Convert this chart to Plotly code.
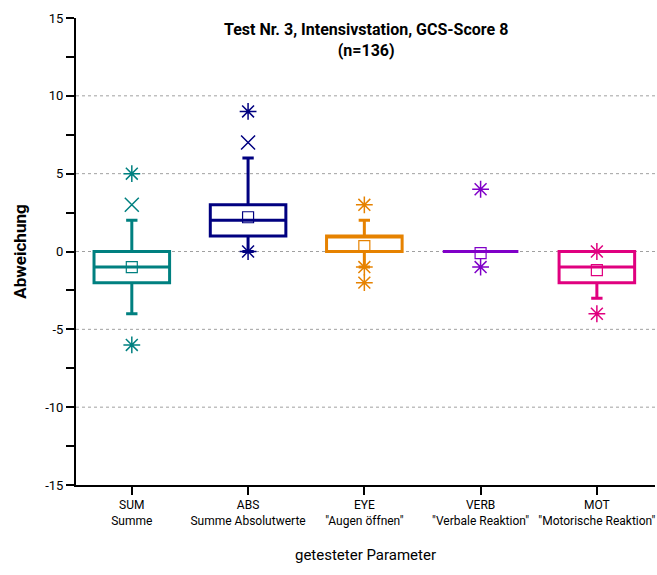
import plotly.graph_objects as go

categories = ["SUM", "ABS", "EYE", "VERB", "MOT"]
tick_labels = ["SUM<br>Summe", "ABS<br>Summe Absolutwerte", "EYE<br>\"Augen öffnen\"",
               "VERB<br>\"Verbale Reaktion\"", "MOT<br>\"Motorische Reaktion\""]
colors = ["#008080", "#000080", "#E68200", "#8000C8", "#E0007F"]

q1 = [-2, 1, 0, 0, -2]
median = [-1, 2, 1, 0, -1]
q3 = [0, 3, 1, 0, 0]
lower_whisker = [-4, 0, -1, 0, -3]
upper_whisker = [2, 6, 2, 0, 0]
means = [-1.0, 2.2, 0.35, -0.1, -1.2]

# outliers: (category index, value, symbol)
outlier_cat = [0, 0, 0, 1, 1, 1, 2, 2, 2, 3, 3, 4, 4]
outlier_val = [5, 3, -6, 9, 7, 0, 3, -1, -2, 4, -1, 0, -4]
outlier_sym = ["asterisk-open", "x-thin-open", "asterisk-open",
               "asterisk-open", "x-thin-open", "asterisk-open",
               "asterisk-open", "asterisk-open", "asterisk-open",
               "asterisk-open", "asterisk-open",
               "asterisk-open", "asterisk-open"]

grid_vals = [10, 5, 0, -5, -10]
y_ticks = [15, 10, 5, 0, -5, -10, -15]
y_tick_text = ["15", "10", "5", "0", "-5", "-10", "-15"]
y_minor = [12.5, 7.5, 2.5, -2.5, -7.5, -12.5]

FONT = "Roboto, Liberation Sans, Arial, sans-serif"

fig = go.Figure()

for i, c in enumerate(categories):
    fig.add_trace(go.Box(
        x=[i], q1=[q1[i]], median=[median[i]], q3=[q3[i]],
        lowerfence=[lower_whisker[i]], upperfence=[upper_whisker[i]],
        width=0.65, whiskerwidth=0.15,
        line=dict(color=colors[i], width=3),
        fillcolor="rgba(0,0,0,0)",
        boxpoints=False, showlegend=False, hoverinfo="skip",
        name=c,
    ))
    fig.add_trace(go.Scatter(
        x=[i], y=[means[i]], mode="markers",
        marker=dict(symbol="square-open", size=11, color=colors[i], line=dict(width=1.2)),
        showlegend=False, hoverinfo="skip",
    ))

for i, c in enumerate(categories):
    idx = [k for k in range(len(outlier_cat)) if outlier_cat[k] == i]
    fig.add_trace(go.Scatter(
        x=[outlier_cat[k] for k in idx], y=[outlier_val[k] for k in idx], mode="markers",
        marker=dict(symbol=[outlier_sym[k] for k in idx], size=14, color=colors[i],
                    line=dict(width=1.5, color=colors[i])),
        showlegend=False, hoverinfo="skip",
    ))

for g in grid_vals:
    fig.add_hline(y=g, line=dict(color="#a0a0a0", width=1, dash="dot"), layer="below")

fig.update_layout(
    width=657, height=575,
    margin=dict(l=76, r=2, t=18, b=90, autoexpand=False),
    plot_bgcolor="white", paper_bgcolor="white",
    font=dict(family=FONT, size=12, color="black"),
    showlegend=False,
)
fig.add_annotation(
    text="<b>Test Nr. 3, Intensivstation, GCS-Score 8</b><br><b>(n=136)</b>",
    x=0.5, xref="paper", y=1.0, yref="paper", yanchor="top",
    xanchor="center", showarrow=False, align="center",
    font=dict(family=FONT, size=16, color="black"),
)

fig.update_xaxes(
    range=[-0.48, 4.5], automargin=False,
    tickvals=list(range(len(categories))), ticktext=tick_labels, tickangle=0,
    ticks="outside", ticklen=8, tickwidth=2, tickcolor="black",
    showline=True, linecolor="black", linewidth=2,
    showgrid=False, zeroline=False,
    tickfont=dict(family=FONT, size=12),
    title=dict(text="getesteter Parameter", font=dict(family=FONT, size=15), standoff=22),
)
fig.update_yaxes(
    range=[-15, 15], tickvals=y_ticks, ticktext=y_tick_text, automargin=False,
    ticks="outside", ticklen=8, tickwidth=2, tickcolor="black",
    minor=dict(tickvals=y_minor, ticks="outside", ticklen=8,
               tickwidth=2, tickcolor="black"),
    showline=True, linecolor="black", linewidth=2,
    showgrid=False, zeroline=False,
    tickfont=dict(family=FONT, size=13),
    title=dict(text="<b>Abweichung</b>", font=dict(family=FONT, size=17), standoff=14),
)

fig.write_html("out.html", config={"displayModeBar": False},
               post_script="document.body.style.margin='0';")
